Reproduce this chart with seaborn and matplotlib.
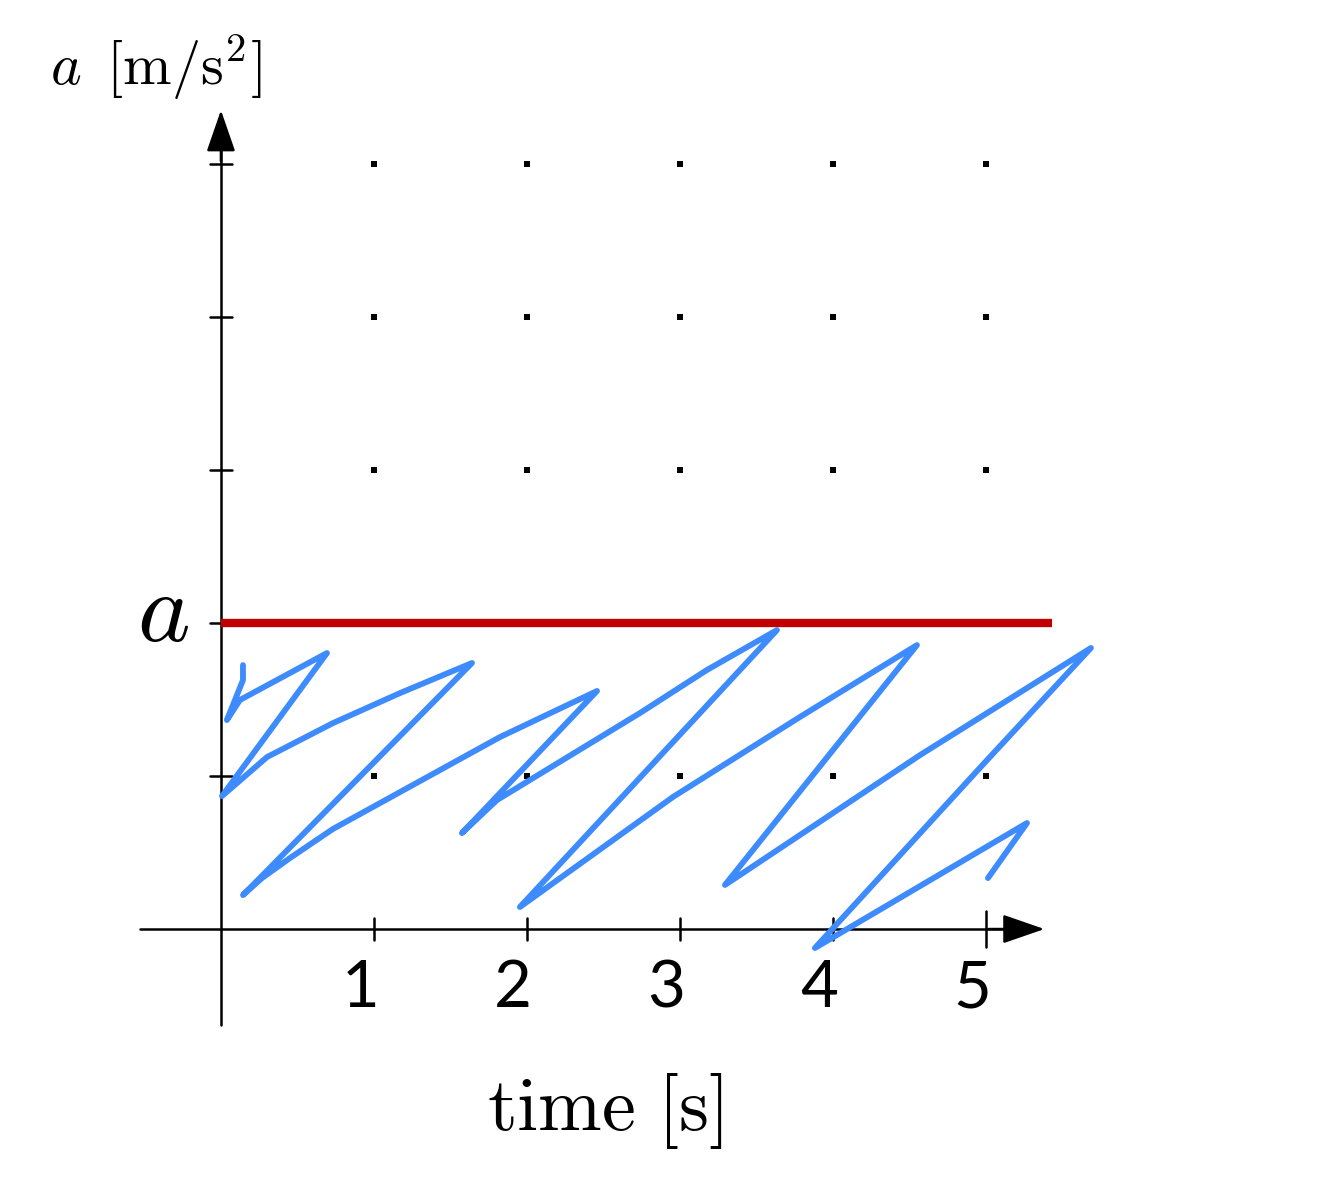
import numpy as np
import pandas as pd
import matplotlib
matplotlib.use("Agg")
import matplotlib.pyplot as plt
import seaborn as sns

# ---- data ----
ticks = [1, 2, 3, 4, 5]
tick_labels = ["1", "2", "3", "4", "5"]
a_level = 2.0          # the red constant acceleration
t_level_end = 5.43

# hand-drawn blue scribble (time, acceleration)
t_scribble = [0.144, 0.144, 0.039, 0.124, 0.693, 0.007, 0.301, 0.732, 1.170, 1.641,
              0.144, 0.268, 0.451, 0.732, 1.824, 2.458, 1.575, 1.804, 2.739, 3.176,
              3.634, 1.954, 2.954, 3.784, 4.549, 3.294, 4.569, 5.686, 4.980,
              3.882, 5.268, 5.013]
a_scribble = [1.725, 1.627, 1.366, 1.497, 1.804, 0.869, 1.124, 1.346, 1.542, 1.739,
              0.222, 0.333, 0.464, 0.654, 1.255, 1.556, 0.627, 0.843, 1.412, 1.693,
              1.954, 0.144, 0.863, 1.386, 1.856, 0.288, 1.137, 1.837, 1.075,
              -0.124, 0.693, 0.333]

scribble = pd.DataFrame({"t": t_scribble, "a": a_scribble})
level = pd.DataFrame({"t": [0.0, t_level_end], "a": [a_level, a_level]})
grid = pd.DataFrame([(x, y) for x in ticks for y in ticks], columns=["t", "a"])

# ---- figure ----
sns.set_style("white")
plt.rcParams["mathtext.fontset"] = "cm"
plt.rcParams["text.color"] = "black"

fig = plt.figure(figsize=(13.18, 12.02), dpi=100)
ax = fig.add_axes([0, 0, 1, 1])
ax.set_xlim(-1.444, 7.170)
ax.set_ylim(-1.784, 6.072)
ax.axis("off")

# dot grid
sns.scatterplot(data=grid, x="t", y="a", marker="s", s=16, color="black",
                linewidth=0, ax=ax, zorder=2)

# axes with arrow heads
ax.plot([0, 0], [-0.63, 5.2], color="black", lw=1.8, zorder=3)
ax.plot([-0.53, 5.2], [0, 0], color="black", lw=1.8, zorder=3)
ax.annotate("", xy=(0, 5.37), xytext=(0, 5.0),
            arrowprops=dict(arrowstyle="-|>,head_length=1.3,head_width=0.45",
                            color="black", lw=1.8, mutation_scale=20), zorder=3)
ax.annotate("", xy=(5.4, 0), xytext=(5.0, 0),
            arrowprops=dict(arrowstyle="-|>,head_length=1.3,head_width=0.45",
                            color="black", lw=1.8, mutation_scale=20), zorder=3)

# tick marks
for t in ticks:
    h = 0.12 if t == ticks[-1] else 0.07
    ax.plot([t, t], [-h, h], color="black", lw=1.8, zorder=3)
    ax.plot([-0.07, 0.07], [t, t], color="black", lw=1.8, zorder=3)

# red constant level
sns.lineplot(data=level, x="t", y="a", color="#c00000", lw=6, ax=ax, zorder=4,
             solid_capstyle="butt")

# blue scribble
sns.lineplot(data=scribble, x="t", y="a", sort=False, estimator=None,
             color="#3d8bfd", lw=4.2, ax=ax, zorder=5,
             solid_joinstyle="round", solid_capstyle="round")

# tick labels
for t, lab in zip(ticks, tick_labels):
    ax.text(t - 0.09, -0.39, lab, fontsize=47, family="Lato", color="black",
            ha="center", va="center")

# labels
ax.text(-0.21, a_level + 0.06, r"$a$", fontsize=72, ha="right", va="center")
ax.text(-1.12, 5.63, r"$a\ \,[\mathrm{m/s^2}]$", fontsize=42, ha="left", va="center")
ax.text(2.51, -1.19, r"$\mathrm{time}\ [\mathrm{s}]$", fontsize=55,
        ha="center", va="center")

fig.savefig("out.png", dpi=100)
